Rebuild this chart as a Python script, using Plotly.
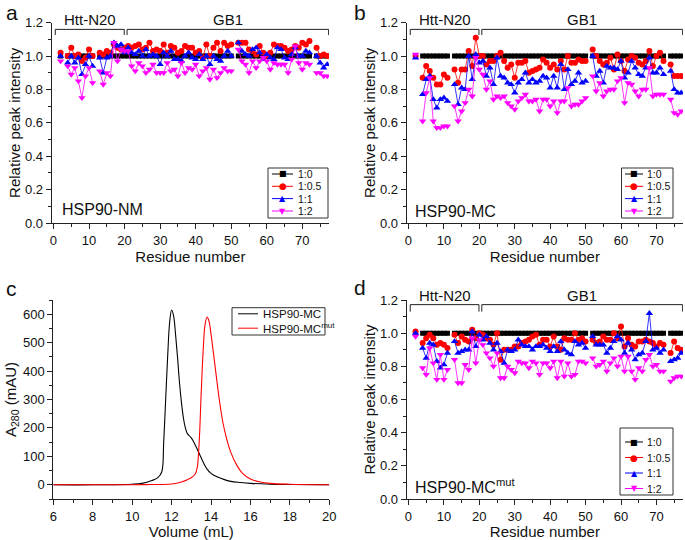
import plotly.graph_objects as go

# residue numbering (3, 12, 51 and 73 have no peak)
residues = list(range(2, 78))

ratio_labels = ["1:0", "1:0.5", "1:1", "1:2"]

# relative peak intensities, residues 2..77
ref_1to0 = [1.00, None, 1.00, 1.00, 1.00, 1.00, 1.00, 1.00, 1.00, 1.00,
            None, 1.00, 1.00, 1.00, 1.00, 1.00, 1.00, 1.00, 1.00, 1.00,
            1.00, 1.00, 1.00, 1.00, 1.00, 1.00, 1.00, 1.00, 1.00, 1.00,
            1.00, 1.00, 1.00, 1.00, 1.00, 1.00, 1.00, 1.00, 1.00, 1.00,
            1.00, 1.00, 1.00, 1.00, 1.00, 1.00, 1.00, 1.00, 1.00, None,
            1.00, 1.00, 1.00, 1.00, 1.00, 1.00, 1.00, 1.00, 1.00, 1.00,
            1.00, 1.00, 1.00, 1.00, 1.00, 1.00, 1.00, 1.00, 1.00, 1.00,
            1.00, None, 1.00, 1.00, 1.00, 1.00]

nm_half = [1.02, None, 1.00, 1.05, 1.00, 1.01, 0.97, 0.99, 1.04, 1.00,
           None, 1.02, 1.01, 1.03, 1.02, 1.07, 1.05, 1.04, 1.05, 1.06,
           1.05, 1.06, 1.07, 1.04, 1.05, 1.08, 1.03, 1.04, 1.03, 1.07,
           1.02, 1.06, 1.05, 1.02, 1.03, 1.06, 1.05, 1.05, 1.02, 1.03,
           0.99, 1.07, 1.00, 1.05, 1.08, 1.03, 1.08, 1.06, 1.07, None,
           1.08, 1.08, 1.08, 1.04, 1.03, 1.01, 1.06, 1.02, 1.00, 1.02,
           1.07, 1.06, 1.06, 1.05, 1.03, 1.04, 1.06, 1.05, 1.08, 1.07,
           1.09, None, 1.05, 1.00, 1.01, 1.00]
nm_one = [1.00, None, 0.96, 1.00, 0.96, 0.99, 0.89, 0.95, 1.00, 0.94,
          None, 0.99, 0.90, 0.99, 1.00, 1.08, 1.06, 1.07, 1.02, 1.05,
          1.02, 1.01, 1.03, 1.00, 1.04, 1.00, 1.01, 1.00, 0.95, 1.02,
          1.00, 1.03, 0.98, 0.98, 0.97, 1.00, 1.02, 0.99, 0.98, 1.01,
          0.98, 1.00, 0.95, 1.00, 0.98, 0.97, 1.00, 1.03, 1.00, None,
          1.08, 1.03, 1.01, 1.00, 1.04, 1.05, 1.02, 0.98, 1.01, 0.99,
          0.98, 1.05, 1.04, 0.99, 0.98, 1.01, 1.05, 1.00, 1.00, 1.03,
          1.02, None, 1.00, 0.96, 0.93, 0.95]
nm_two = [0.97, None, 0.94, 0.89, 0.93, 0.85, 0.75, 0.88, 0.93, 0.84,
          None, 0.91, 0.83, 0.90, 0.88, 1.08, 0.97, 1.04, 1.03, 1.03,
          0.94, 0.91, 0.96, 0.94, 0.90, 0.92, 0.95, 0.90, 0.90, 0.90,
          0.96, 0.91, 0.92, 0.88, 0.96, 0.90, 0.93, 0.92, 0.95, 0.88,
          0.91, 0.93, 0.86, 0.92, 0.87, 0.90, 0.93, 0.91, 0.91, None,
          1.04, 0.97, 0.95, 0.90, 0.97, 0.93, 0.97, 0.99, 0.97, 0.92,
          0.96, 0.95, 0.95, 0.95, 0.90, 0.98, 1.06, 0.96, 0.92, 0.96,
          0.95, None, 0.90, 0.90, 0.88, 0.88]

mc_half = [1.00, None, 0.87, 0.94, 0.91, 0.87, 0.83, 0.83, 0.89, 0.87,
           None, 0.92, 0.84, 0.92, 0.92, 1.03, 0.94, 1.11, 1.00, 1.00,
           0.95, 0.97, 0.97, 1.00, 1.02, 0.97, 0.93, 0.95, 0.87, 0.96,
           0.96, 0.97, 0.90, 0.91, 0.92, 0.93, 0.98, 0.96, 0.93, 0.95,
           0.92, 0.97, 0.92, 1.00, 0.96, 0.96, 0.98, 0.97, 0.97, None,
           1.04, 1.00, 0.97, 0.95, 0.96, 0.99, 0.92, 1.01, 0.97, 0.91,
           0.98, 1.00, 0.99, 0.96, 0.95, 0.97, 1.03, 0.94, 1.00, 1.02,
           0.97, None, 0.95, 0.88, 0.88, 0.88]
mc_one = [0.99, None, 0.77, 0.86, 0.88, 0.74, 0.69, 0.74, 0.75, 0.73,
          None, 0.83, 0.71, 0.81, 0.80, 1.00, 0.86, 1.01, 0.96, 0.97,
          0.88, 0.93, 0.83, 0.99, 0.88, 0.87, 0.84, 0.83, 0.78, 0.84,
          0.86, 0.90, 0.84, 0.86, 0.84, 0.85, 0.88, 0.87, 0.81, 0.88,
          0.81, 0.95, 0.80, 0.92, 0.83, 0.85, 0.90, 0.84, 0.85, None,
          1.00, 0.88, 0.91, 0.84, 0.94, 0.93, 0.93, 0.92, 0.97, 0.87,
          0.90, 0.97, 0.93, 0.89, 0.88, 0.93, 0.99, 0.90, 0.90, 0.93,
          0.89, None, 0.91, 0.80, 0.78, 0.78]
mc_two = [1.01, None, 0.61, 0.78, 0.87, 0.61, 0.57, 0.57, 0.58, 0.58,
          None, 0.70, 0.61, 0.67, 0.72, 0.80, 0.76, 0.99, 0.92, 0.89,
          0.80, 0.85, 0.74, 0.76, 0.75, 0.76, 0.72, 0.70, 0.68, 0.73,
          0.75, 0.77, 0.73, 0.73, 0.74, 0.67, 0.74, 0.74, 0.70, 0.73,
          0.66, 0.73, 0.73, 0.81, 0.70, 0.71, 0.71, 0.73, 0.75, None,
          0.88, 0.79, 0.84, 0.76, 0.79, 0.80, 0.80, 0.85, 0.87, 0.72,
          0.84, 0.83, 0.79, 0.76, 0.80, 0.80, 0.93, 0.76, 0.77, 0.77,
          0.77, None, 0.74, 0.66, 0.65, 0.67]

mut_half = [1.01, None, 0.94, 0.97, 0.99, 0.97, 0.93, 0.94, 0.93, 0.91,
            None, 0.99, 0.94, 0.98, 0.96, 0.95, 1.02, 0.97, 1.00, 0.99,
            0.97, 0.96, 0.93, 1.00, 0.84, 0.90, 0.90, 0.90, 0.92, 0.92,
            0.94, 0.95, 0.96, 0.98, 0.99, 0.93, 0.96, 0.96, 0.92, 0.98,
            0.92, 0.90, 0.97, 0.96, 0.96, 1.00, 0.96, 0.97, 0.95, None,
            0.96, 0.94, 0.95, 0.98, 0.96, 0.96, 1.00, 0.97, 1.04, 0.92,
            0.97, 0.93, 0.92, 0.95, 0.95, 0.96, 0.95, 0.94, 0.92, 0.94,
            0.93, None, 0.88, 0.95, 0.91, 0.90]
mut_one = [1.00, None, 0.91, 0.85, 0.94, 0.93, 0.83, 0.79, 0.81, 0.88,
           None, 0.95, 0.88, 0.89, 0.90, 0.90, 1.01, 0.92, 0.99, 0.96,
           0.98, 0.94, 0.90, 0.94, 0.89, 0.82, 0.90, 0.89, 0.90, 0.96,
           0.93, 0.92, 0.92, 0.90, 0.92, 0.92, 0.93, 0.91, 0.89, 0.92,
           0.89, 0.95, 0.90, 0.88, 0.87, 0.95, 0.93, 0.94, 0.91, None,
           0.98, 0.93, 0.93, 0.93, 0.88, 0.91, 0.95, 0.98, 0.96, 0.88,
           0.94, 0.90, 0.84, 0.87, 0.88, 0.95, 1.12, 0.90, 0.91, 0.88,
           0.90, None, 0.83, 0.84, 0.85, 0.88]
mut_two = [0.98, None, 0.79, 0.75, 0.91, 0.82, 0.72, 0.87, 0.72, 0.78,
           None, 0.84, 0.70, 0.70, 0.81, 0.78, 0.97, 0.82, 0.96, 0.93,
           0.88, 0.85, 0.80, 0.88, 0.73, 0.73, 0.80, 0.78, 0.76, 0.83,
           0.82, 0.82, 0.79, 0.83, 0.82, 0.75, 0.82, 0.82, 0.79, 0.83,
           0.73, 0.83, 0.74, 0.82, 0.74, 0.75, 0.83, 0.83, 0.82, None,
           0.85, 0.80, 0.81, 0.83, 0.77, 0.82, 0.85, 0.80, 0.86, 0.77,
           0.86, 0.77, 0.72, 0.79, 0.77, 0.84, 0.87, 0.80, 0.81, 0.77,
           0.77, None, 0.71, 0.73, 0.74, 0.74]

# size exclusion traces
mc_volume = [6, 8, 10, 10.5, 11, 11.3, 11.5, 11.6, 11.7, 11.8, 11.9, 12.0, 12.1,
             12.2, 12.3, 12.4, 12.5, 12.6, 12.7, 12.8, 13.0, 13.2, 13.4, 13.6,
             13.8, 14.0, 14.3, 14.6, 15.0, 15.5, 16.0, 17.0, 18.0, 20.0]
mc_a280 = [0, 0, 2, 5, 15, 25, 45, 150, 300, 450, 570, 615, 595,
           530, 450, 360, 290, 235, 200, 180, 165, 140, 110, 80,
           55, 40, 28, 20, 12, 8, 5, 2, 1, 0]
mut_volume = [6, 8, 10, 11, 12, 12.5, 12.8, 13.0, 13.2, 13.3, 13.4, 13.5, 13.6,
              13.7, 13.8, 13.9, 14.0, 14.2, 14.4, 14.6, 14.8, 15.0, 15.3, 15.6,
              16.0, 16.5, 17.0, 18.0, 20.0]
mut_a280 = [0, 0, 0, 1, 3, 10, 18, 25, 38, 60, 150, 320, 470,
            565, 590, 575, 530, 420, 310, 220, 160, 115, 70, 40,
            20, 10, 5, 2, 0]
sec_labels = ["HSP90-MC", "HSP90-MC<sup>mut</sup>"]

# construct regions for the brackets (label, residue start, end, label centre)
regions = [("Htt-N20", 0.5, 19.9, 10.3), ("GB1", 20.7, 77.4, 49.0)]

FONT = "Liberation Sans, Arial, sans-serif"
INK = "#111"
colors = ["#000000", "#ff0000", "#0000ff", "#ff00ff"]
symbols = ["square", "circle", "triangle-up", "triangle-down"]
sizes = [5, 6, 6.5, 6.5]
line_widths = [4, 0.8, 0.8, 0.8]  # the 1:0 reference reads as a solid bar
glyphs = ["■", "●", "▲", "▼"]
glyph_sizes = [8, 9, 8, 8]

W, H = 685, 540


def px(x):
    return x / W


def py(y):
    return 1 - y / H


fig = go.Figure()

panels = [
    ("x", "y", [ref_1to0, nm_half, nm_one, nm_two]),
    ("x2", "y2", [ref_1to0, mc_half, mc_one, mc_two]),
    ("x4", "y4", [ref_1to0, mut_half, mut_one, mut_two]),
]
for xa, ya, series in panels:
    for name, vals, c, s, sz, lw in zip(ratio_labels, series, colors, symbols, sizes, line_widths):
        fig.add_trace(go.Scatter(
            x=residues, y=vals, name=name, mode="lines+markers",
            xaxis=xa, yaxis=ya, showlegend=False,
            line=dict(color=c, width=lw),
            marker=dict(symbol=s, size=sz, color=c, line=dict(width=0)),
            connectgaps=False,
        ))

for vol, a280, name, c in [(mc_volume, mc_a280, sec_labels[0], "#000000"),
                           (mut_volume, mut_a280, sec_labels[1], "#ff0000")]:
    fig.add_trace(go.Scatter(x=vol, y=a280, name=name, mode="lines",
                             xaxis="x3", yaxis="y3", showlegend=False,
                             line=dict(color=c, width=1.1, shape="spline")))

tickfont = dict(family=FONT, size=13, color=INK)
titlefont = dict(family=FONT, size=15, color=INK)


def axis_style(**kw):
    d = dict(showline=True, linecolor="#222", linewidth=1, ticks="outside",
             ticklen=5, tickcolor="#222", showgrid=False, zeroline=False,
             tickfont=tickfont, title_font=titlefont)
    d.update(kw)
    return d


def residue_axes(xdom, ydom, anchor_x, anchor_y):
    xa = axis_style(domain=xdom, anchor=anchor_y, range=[-0.5, 77.5], dtick=10, tick0=0,
                    minor=dict(ticks="outside", ticklen=3, dtick=5, tick0=0, tickcolor="#222"),
                    title=dict(text="Residue number", standoff=0))
    ya = axis_style(domain=ydom, anchor=anchor_x, range=[0, 1.2], dtick=0.2, tick0=0,
                    tickformat=".1f",
                    minor=dict(ticks="outside", ticklen=3, dtick=0.1, tick0=0, tickcolor="#222"),
                    title=dict(text="Relative peak intensity", standoff=0))
    return xa, ya


top = [py(223), py(22.7)]
bottom = [py(499), py(300)]
left = [px(51.7), px(329)]
right = [px(406.7), px(683)]

xa1, ya1 = residue_axes(left, top, "x", "y")
xa2, ya2 = residue_axes(right, top, "x2", "y2")
xa4, ya4 = residue_axes(right, bottom, "x4", "y4")

xa3 = axis_style(domain=[px(53.3), px(329.3)], anchor="y3", range=[6, 20], dtick=2,
                 minor=dict(ticks="outside", ticklen=3, dtick=1, tickcolor="#222"),
                 title=dict(text="Volume (mL)", standoff=0))
ya3 = axis_style(domain=bottom, anchor="x3", range=[-50, 650],
                 tickvals=[0, 100, 200, 300, 400, 500, 600],
                 minor=dict(ticks="outside", ticklen=3, dtick=50, tick0=0, tickcolor="#222"),
                 title=dict(text="A<sub>280</sub> (mAU)", standoff=2))

fig.update_layout(
    width=W, height=H,
    margin=dict(l=0, r=0, t=0, b=0, autoexpand=False),
    paper_bgcolor="white", plot_bgcolor="white",
    font=dict(family=FONT, color=INK),
    xaxis=xa1, yaxis=ya1, xaxis2=xa2, yaxis2=ya2,
    xaxis3=xa3, yaxis3=ya3, xaxis4=xa4, yaxis4=ya4,
    showlegend=False,
)

# brackets over Htt-N20 and GB1
for xa, ya, ytop, yend, ylab in [("x", "y", 1.16, 1.126, 1.018),
                                 ("x2", "y2", 1.16, 1.126, 1.018),
                                 ("x4", "y4", 1.172, 1.13, 1.024)]:
    for label, x0, x1, xc in regions:
        fig.add_shape(type="path", xref=xa, yref=ya,
                      path=f"M {x0},{yend} L {x0},{ytop} L {x1},{ytop} L {x1},{yend}",
                      line=dict(color="#222", width=1))
        fig.add_annotation(text=label, xref=xa, yref=f"{ya} domain", x=xc, y=ylab,
                           yanchor="middle", showarrow=False,
                           font=dict(family=FONT, size=15, color=INK))


# legend boxes, drawn compactly as in the original figure
def draw_legend(box, line_x, text_x, rows, labels, cols, marks=None, fsize=10.5):
    x0, x1, y0, y1 = box
    fig.add_shape(type="rect", xref="paper", yref="paper", layer="above",
                  x0=px(x0), x1=px(x1), y0=py(y1), y1=py(y0),
                  line=dict(color="#333", width=1), fillcolor="white")
    for i, (lab, c, yy) in enumerate(zip(labels, cols, rows)):
        fig.add_shape(type="line", xref="paper", yref="paper", layer="above",
                      x0=px(line_x[0]), x1=px(line_x[1]), y0=py(yy), y1=py(yy),
                      line=dict(color=c, width=1))
        if marks:
            fig.add_annotation(text=marks[i], xref="paper", yref="paper",
                               x=px((line_x[0] + line_x[1]) / 2), y=py(yy),
                               xanchor="center", yanchor="middle", showarrow=False,
                               font=dict(family="DejaVu Sans", size=glyph_sizes[i], color=c))
        fig.add_annotation(text=lab, xref="paper", yref="paper", x=px(text_x), y=py(yy),
                           xanchor="left", yanchor="middle", showarrow=False,
                           font=dict(family=FONT, size=fsize, color=INK))


draw_legend((268, 328, 168, 218), (272, 293), 296, [174, 186.3, 198.6, 211],
            ratio_labels, colors, glyphs)
draw_legend((621.5, 673, 168, 218), (625, 643), 645, [174, 186.3, 198.6, 211],
            ratio_labels, colors, glyphs)
draw_legend((620, 673, 428, 495), (625, 643), 645, [442, 457.5, 473, 488.5],
            ratio_labels, colors, glyphs)
draw_legend((232, 325, 307.7, 335), (238, 258), 261, [313.8, 328.2],
            sec_labels, ["#000000", "#ff0000"], None, fsize=11.5)

# construct names inside the panels
for text, x, y in [("HSP90-NM", 60, 210), ("HSP90-MC", 413, 211),
                   ("HSP90-MC<sup>mut</sup>", 413, 486)]:
    fig.add_annotation(text=text, xref="paper", yref="paper", x=px(x), y=py(y),
                       xanchor="left", yanchor="middle", showarrow=False,
                       font=dict(family=FONT, size=16, color=INK))

# panel letters
for text, x, y in [("a", 4, 12), ("b", 352, 12), ("c", 4, 288), ("d", 352, 287)]:
    fig.add_annotation(text=text, xref="paper", yref="paper", x=px(x), y=py(y),
                       xanchor="left", yanchor="middle", showarrow=False,
                       font=dict(family=FONT, size=21, color=INK))

# the page body has a default 8px margin; drop it so the figure fills the window
fig.write_html("out.html", config={"displayModeBar": False},
               post_script="document.body.style.margin = '0';")
